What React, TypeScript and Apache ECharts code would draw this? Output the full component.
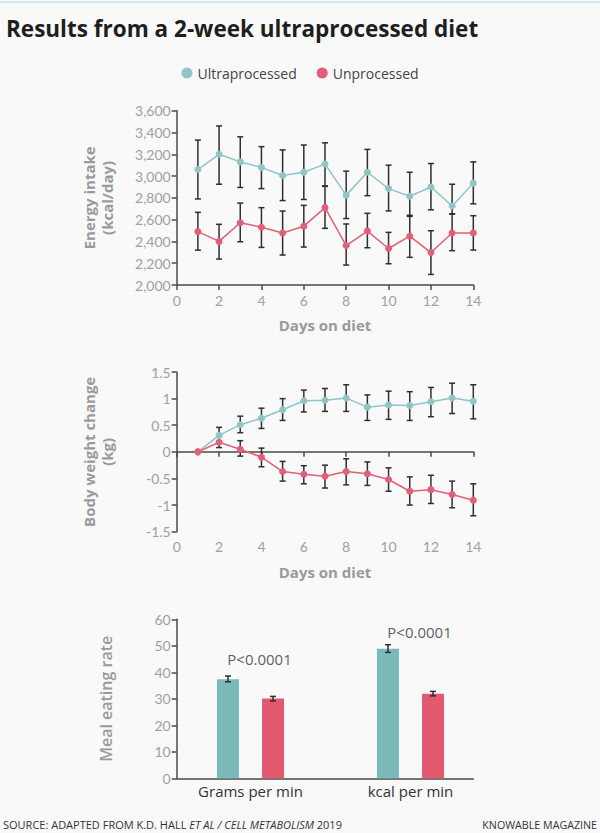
import React, { useEffect, useRef } from "react";
import * as echarts from "echarts";

// ---------- data ----------
const days = [1, 2, 3, 4, 5, 6, 7, 8, 9, 10, 11, 12, 13, 14];

const energyUltra = [3060, 3200, 3130, 3080, 3005, 3035, 3110, 2825, 3035, 2885, 2815, 2900, 2725, 2935];
const energyUltraLow = [2790, 2925, 2895, 2885, 2775, 2785, 2910, 2610, 2820, 2680, 2640, 2690, 2650, 2745];
const energyUltraHigh = [3330, 3460, 3360, 3270, 3240, 3285, 3305, 3045, 3245, 3100, 3035, 3115, 2925, 3130];

const energyUnproc = [2490, 2400, 2572, 2530, 2478, 2540, 2710, 2362, 2495, 2335, 2448, 2298, 2478, 2478];
const energyUnprocLow = [2320, 2238, 2397, 2345, 2275, 2348, 2520, 2183, 2342, 2195, 2254, 2097, 2315, 2321];
const energyUnprocHigh = [2667, 2557, 2752, 2710, 2679, 2731, 2905, 2560, 2658, 2483, 2630, 2498, 2654, 2636];

const weightUltra = [0, 0.31, 0.51, 0.63, 0.79, 0.96, 0.97, 1.01, 0.84, 0.88, 0.87, 0.94, 1.01, 0.95];
const weightUltraLow = [null, 0.16, 0.36, 0.44, 0.59, 0.75, 0.76, 0.76, 0.59, 0.61, 0.59, 0.66, 0.72, 0.62];
const weightUltraHigh = [null, 0.46, 0.67, 0.82, 1.0, 1.16, 1.19, 1.26, 1.07, 1.14, 1.13, 1.21, 1.29, 1.26];

const weightUnproc = [0, 0.18, 0.05, -0.1, -0.37, -0.42, -0.46, -0.37, -0.41, -0.52, -0.74, -0.71, -0.8, -0.91];
const weightUnprocLow = [null, 0.08, -0.08, -0.28, -0.55, -0.6, -0.68, -0.62, -0.63, -0.74, -1.0, -0.97, -1.05, -1.2];
const weightUnprocHigh = [null, 0.28, 0.21, 0.07, -0.18, -0.26, -0.25, -0.13, -0.19, -0.3, -0.47, -0.44, -0.55, -0.6];

const rateCategories = ["Grams per min", "kcal per min"];
const rateUltra = [37.4, 48.9];
const rateUltraLow = [36.4, 47.5];
const rateUltraHigh = [38.6, 50.4];
const rateUnproc = [30.1, 31.9];
const rateUnprocLow = [29.2, 31.1];
const rateUnprocHigh = [30.9, 32.8];
const pValueLabels = ["P<0.0001", "P<0.0001"];
const pValueHeights = [45, 55.3];

// ---------- styles ----------
const TEAL_LINE = "#8fc5c6";
const RED_LINE = "#e25f77";
const TEAL_BAR = "#7bbabb";
const RED_BAR = "#e35a6e";
const AXIS = "#4a4a4a";
const TICK_TEXT = "#a0a0a0";
const NAME_TEXT = "#9a9a9a";
const FONT = "Lato";
const FONT2 = "Open Sans";
const BAR_W = 22;
const BAR_OFFSET = 22.5;

function errorRender(offset: number, cap: number) {
  return (params: any, api: any) => {
    const x = api.value(0);
    const lo = api.value(1);
    const hi = api.value(2);
    if (isNaN(lo) || isNaN(hi)) return null;
    const a = api.coord([x, lo]);
    const b = api.coord([x, hi]);
    const cx = a[0] + offset;
    const style = { stroke: "#2f2f2f", lineWidth: 1.5 };
    return {
      type: "group",
      children: [
        { type: "line", shape: { x1: cx, y1: a[1], x2: cx, y2: b[1] }, style },
        { type: "line", shape: { x1: cx - cap, y1: a[1], x2: cx + cap, y2: a[1] }, style },
        { type: "line", shape: { x1: cx - cap, y1: b[1], x2: cx + cap, y2: b[1] }, style },
      ],
    };
  };
}

const zip2 = (xs: any[], ys: any[]) => xs.map((x, i) => [x, ys[i]]);
const zip3 = (xs: any[], a: any[], b: any[]) =>
  xs.map((x, i) => [x, a[i] === null ? "-" : a[i], b[i] === null ? "-" : b[i]]);

const axisLineCfg = { show: true, lineStyle: { color: AXIS, width: 1.5 } };
const tickCfg = { show: true, length: 5, lineStyle: { color: AXIS, width: 1.5 } };
const tickLabel = { color: TICK_TEXT, fontSize: 14, fontFamily: FONT };
const nameStyle = { color: NAME_TEXT, fontSize: 15, fontWeight: "bold" as const, fontFamily: FONT2, lineHeight: 18 };

export default function App() {
  const ref = useRef<HTMLDivElement>(null);

  useEffect(() => {
    if (!ref.current) return;
    const chart = echarts.init(ref.current, undefined, { renderer: "svg" });

    const lineSeries = (name: string, color: string, x: number, y: number, data: number[]) => ({
      type: "line",
      name,
      xAxisIndex: x,
      yAxisIndex: y,
      data: zip2(days, data),
      symbol: "circle",
      symbolSize: 7,
      lineStyle: { color, width: 1.5 },
      itemStyle: { color },
      z: 3,
    });
    const errSeries = (x: number, y: number, lo: any[], hi: any[], xs: any[], offset: number, cap: number) => ({
      type: "custom",
      xAxisIndex: x,
      yAxisIndex: y,
      renderItem: errorRender(offset, cap),
      encode: { x: 0, y: [1, 2] },
      data: zip3(xs, lo, hi),
      z: 2,
      silent: true,
    });

    const option: any = {
      animation: false,
      backgroundColor: "#f9f9f9",
      textStyle: { fontFamily: FONT },
      title: {
        text: "Results from a 2-week ultraprocessed diet",
        left: 1,
        top: 12,
        textStyle: { fontSize: 22.5, fontWeight: "bold", color: "#1e1e1e", fontFamily: FONT2 },
      },
      legend: {
        data: ["Ultraprocessed", "Unprocessed"],
        top: 61,
        left: "center",
        icon: "circle",
        itemWidth: 11,
        itemHeight: 11,
        itemGap: 20,
        textStyle: { fontSize: 14, color: "#444", fontFamily: FONT2 },
      },
      graphic: [
        { type: "rect", left: 0, top: 1, shape: { width: 600, height: 2 }, style: { fill: "#d5e7ee" } },
        {
          type: "text",
          left: 3,
          top: 819,
          style: {
            text: "SOURCE: ADAPTED FROM K.D. HALL {i|ET AL / CELL METABOLISM} 2019",
            fontSize: 11,
            fill: "#333",
            fontFamily: FONT2,
            rich: { i: { fontStyle: "italic", fontSize: 11, fill: "#333", fontFamily: FONT2 } },
          },
        },
        {
          type: "text",
          right: 3,
          top: 819,
          style: { text: "KNOWABLE MAGAZINE", fontSize: 10.7, fill: "#333", fontFamily: FONT2 },
        },
      ],
      grid: [
        { left: 176.7, top: 110.7, width: 296.6, height: 174.3 },
        { left: 176.7, top: 372, width: 296.6, height: 159.7 },
        { left: 176.7, top: 619.3, width: 296.6, height: 159 },
        { left: 170.5, top: 619.3, width: 320, height: 159 },
      ],
      xAxis: [
        {
          gridIndex: 0, type: "value", min: 0, max: 14, interval: 2,
          axisLine: axisLineCfg, axisTick: tickCfg, axisLabel: { ...tickLabel, margin: 8 },
          splitLine: { show: false },
          name: "Days on diet", nameLocation: "middle", nameGap: 31, nameTextStyle: nameStyle,
        },
        {
          gridIndex: 1, type: "value", min: 0, max: 14, interval: 2,
          axisLine: axisLineCfg, axisTick: tickCfg, axisLabel: { ...tickLabel, margin: 8 },
          splitLine: { show: false },
          name: "Days on diet", nameLocation: "middle", nameGap: 31, nameTextStyle: nameStyle,
        },
        {
          gridIndex: 2, type: "value", min: 0, max: 1,
          axisLine: axisLineCfg, axisTick: { show: false }, axisLabel: { show: false },
          splitLine: { show: false },
        },
        {
          gridIndex: 3, type: "category", data: rateCategories,
          axisLine: { show: false }, axisTick: { show: false },
          axisLabel: { color: "#333", fontSize: 15, fontFamily: FONT2, margin: 5 },
        },
      ],
      yAxis: [
        {
          gridIndex: 0, type: "value", min: 2000, max: 3600, interval: 200,
          axisLine: axisLineCfg, axisTick: tickCfg,
          axisLabel: { ...tickLabel, margin: 6, formatter: (v: number) => v.toLocaleString("en-US") },
          splitLine: { show: false },
          name: "Energy intake\n(kcal/day)", nameLocation: "middle", nameGap: 61, nameTextStyle: nameStyle,
        },
        {
          gridIndex: 1, type: "value", min: -1.5, max: 1.5, interval: 0.5,
          axisLine: axisLineCfg, axisTick: tickCfg,
          axisLabel: { ...tickLabel, margin: 6 },
          splitLine: { show: false },
          name: "Body weight change\n(kg)", nameLocation: "middle", nameGap: 61, nameTextStyle: nameStyle,
        },
        {
          gridIndex: 2, type: "value", min: 0, max: 60, interval: 10,
          axisLine: axisLineCfg, axisTick: tickCfg,
          axisLabel: { ...tickLabel, margin: 6 },
          splitLine: { show: false },
          name: "Meal eating rate", nameLocation: "middle", nameGap: 62,
          nameTextStyle: { ...nameStyle, fontSize: 16, fontWeight: 600 },
        },
        { gridIndex: 3, type: "value", min: 0, max: 60, show: false },
      ],
      series: [
        errSeries(0, 0, energyUltraLow, energyUltraHigh, days, 0, 3),
        errSeries(0, 0, energyUnprocLow, energyUnprocHigh, days, 0, 3),
        lineSeries("Ultraprocessed", TEAL_LINE, 0, 0, energyUltra),
        lineSeries("Unprocessed", RED_LINE, 0, 0, energyUnproc),
        errSeries(1, 1, weightUltraLow, weightUltraHigh, days, 0, 3),
        errSeries(1, 1, weightUnprocLow, weightUnprocHigh, days, 0, 3),
        lineSeries("Ultraprocessed", TEAL_LINE, 1, 1, weightUltra),
        lineSeries("Unprocessed", RED_LINE, 1, 1, weightUnproc),
        {
          type: "bar", name: "Ultraprocessed", xAxisIndex: 3, yAxisIndex: 3,
          data: rateUltra, barWidth: BAR_W, barGap: "105%", itemStyle: { color: TEAL_BAR },
        },
        {
          type: "bar", name: "Unprocessed", xAxisIndex: 3, yAxisIndex: 3,
          data: rateUnproc, barWidth: BAR_W, barGap: "105%", itemStyle: { color: RED_BAR },
        },
        { ...errSeries(3, 3, rateUltraLow, rateUltraHigh, [0, 1], -BAR_OFFSET, 3), z: 4 },
        { ...errSeries(3, 3, rateUnprocLow, rateUnprocHigh, [0, 1], BAR_OFFSET, 3), z: 4 },
        {
          type: "scatter", xAxisIndex: 3, yAxisIndex: 3, symbolSize: 2,
          itemStyle: { color: "rgba(0,0,0,0)" },
          data: pValueHeights.map((v, i) => ({ value: [i, v], label: { formatter: pValueLabels[i] } })),
          label: { show: true, position: "inside", offset: [9, 0], color: "#333", fontSize: 15, fontFamily: FONT2 },
          silent: true,
          z: 5,
        },
      ],
    };
    chart.setOption(option);
    return () => chart.dispose();
  }, []);

  return (
    <div style={{ position: "absolute", left: 0, top: 0, width: 600, height: 833, background: "#f9f9f9" }}>
      <div ref={ref} style={{ width: 600, height: 833 }} />
    </div>
  );
}
